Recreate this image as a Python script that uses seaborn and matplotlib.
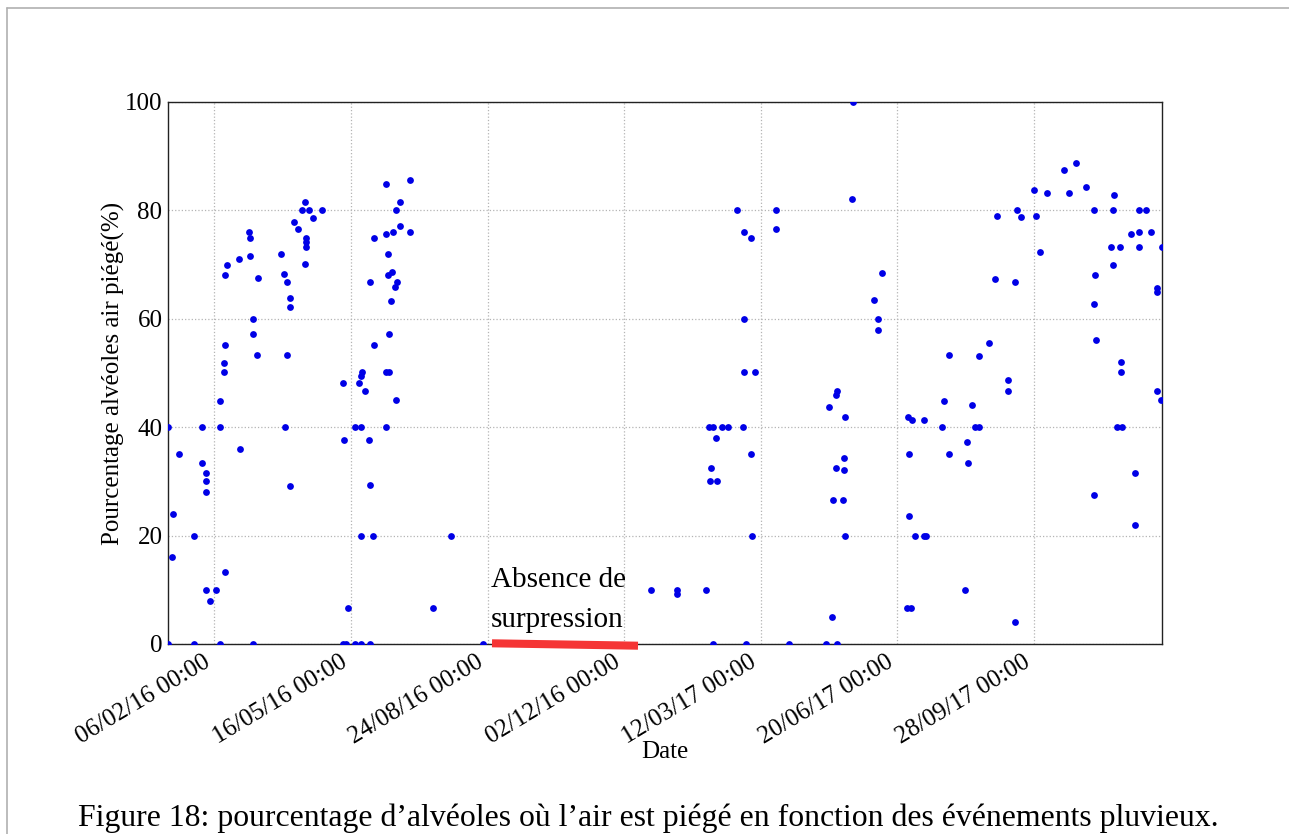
import matplotlib
matplotlib.use("Agg")
import matplotlib.pyplot as plt
from matplotlib.lines import Line2D
import pandas as pd
import seaborn as sns

dates = [
    "2016-01-03", "2016-01-11", "2016-01-07", "2016-01-06", "2016-01-03", "2016-01-22", "2016-01-22",
    "2016-01-28", "2016-01-28", "2016-01-31", "2016-01-31", "2016-01-31", "2016-01-31", "2016-02-03",
    "2016-02-07", "2016-02-10", "2016-02-10", "2016-02-10", "2016-02-13", "2016-02-13", "2016-02-14",
    "2016-02-14", "2016-02-14", "2016-02-15", "2016-02-24", "2016-02-25", "2016-03-02", "2016-03-03",
    "2016-03-03", "2016-03-05", "2016-03-05", "2016-03-05", "2016-03-08", "2016-03-09", "2016-03-26",
    "2016-03-28", "2016-03-30", "2016-04-01", "2016-04-01", "2016-03-30", "2016-03-29", "2016-04-01",
    "2016-04-04", "2016-04-07", "2016-04-10", "2016-04-12", "2016-04-15", "2016-04-18", "2016-04-25",
    "2016-04-13", "2016-04-13", "2016-04-13", "2016-04-12",
    "2016-05-10", "2016-05-11", "2016-05-14", "2016-05-10", "2016-05-12", "2016-05-19", "2016-05-23",
    "2016-05-22", "2016-05-23", "2016-05-24", "2016-05-26", "2016-05-23", "2016-05-19", "2016-05-23",
    "2016-05-29", "2016-05-30", "2016-05-30", "2016-05-30", "2016-06-01", "2016-06-02", "2016-06-02",
    "2016-06-11", "2016-06-11", "2016-06-11", "2016-06-13", "2016-06-13", "2016-06-14", "2016-06-11",
    "2016-06-12", "2016-06-12", "2016-06-15", "2016-06-17", "2016-06-19", "2016-06-16", "2016-06-18",
    "2016-06-21", "2016-06-21", "2016-06-18", "2016-06-28", "2016-06-28", "2016-07-15", "2016-07-28",
    "2016-08-21",
    "2016-12-22", "2017-01-10", "2017-01-10", "2017-01-31", "2017-02-02", "2017-02-05", "2017-02-07",
    "2017-02-04", "2017-02-03", "2017-02-08", "2017-02-05", "2017-02-12", "2017-02-16", "2017-02-23",
    "2017-02-28", "2017-03-05", "2017-02-28", "2017-02-28", "2017-03-08", "2017-02-27", "2017-03-05",
    "2017-03-06", "2017-03-01", "2017-03-23", "2017-03-23", "2017-04-02",
    "2017-05-19", "2017-05-18", "2017-06-09", "2017-06-03", "2017-06-06", "2017-06-06", "2017-05-07",
    "2017-05-06", "2017-05-01", "2017-05-13", "2017-05-12", "2017-05-06", "2017-05-12", "2017-05-04",
    "2017-05-11", "2017-05-13", "2017-05-03", "2017-04-29", "2017-05-07",
    "2017-06-28", "2017-07-01", "2017-07-10", "2017-06-29", "2017-06-29", "2017-07-03", "2017-07-10",
    "2017-07-11", "2017-06-27", "2017-06-30", "2017-07-24", "2017-07-23", "2017-07-28", "2017-07-28",
    "2017-08-09", "2017-08-10", "2017-08-11", "2017-08-14", "2017-08-16", "2017-08-19", "2017-08-19",
    "2017-08-26", "2017-08-31", "2017-09-01", "2017-09-09", "2017-09-09", "2017-09-14", "2017-09-14",
    "2017-09-16", "2017-09-19", "2017-09-28", "2017-09-30", "2017-10-03", "2017-10-08",
    "2017-10-20", "2017-10-24", "2017-10-29", "2017-11-05", "2017-11-11", "2017-11-12", "2017-11-11",
    "2017-11-13", "2017-11-11", "2017-11-24", "2017-11-25", "2017-11-26", "2017-11-25", "2017-11-30",
    "2017-11-28", "2017-12-02", "2017-12-01", "2017-12-01", "2017-12-08", "2017-12-11", "2017-12-11",
    "2017-12-14", "2017-12-19", "2017-12-14", "2017-12-14", "2017-12-23", "2017-12-27", "2017-12-27",
    "2017-12-27", "2017-12-30", "2017-12-31",
]

pct_air = [
    40, 35, 24, 16, 0, 20, 0,
    40, 33.4, 31.5, 30, 28, 10, 8,
    10, 40, 44.8, 0, 50.1, 51.8, 55.1,
    13.3, 68, 70, 71.1, 36, 76, 74.9,
    71.5, 59.9, 57.2, 0, 53.4, 67.6, 71.9,
    68.3, 66.7, 63.9, 62.1, 53.4, 40, 29.2,
    77.9, 76.5, 80, 81.6, 80, 78.6, 80,
    74.9, 74.2, 73.3, 70.1,
    48.2, 37.6, 6.6, 0, 0, 40, 40,
    48.2, 49.4, 50.1, 46.7, 20, 0, 0,
    37.7, 29.3, 66.7, 0, 20, 55.1, 74.9,
    84.8, 40, 50.1, 50.1, 57.2, 63.3, 75.6,
    71.9, 68, 68.6, 65.9, 66.7, 76, 80,
    81.5, 77.1, 45.1, 85.7, 76, 6.6, 20,
    0,
    10, 10, 9.2, 10, 40, 40, 38,
    32.5, 30, 30, 0, 40, 40, 80,
    76, 74.9, 59.9, 50.1, 50.1, 40, 35,
    20, 0, 80, 76.5, 0,
    100, 82.1, 68.4, 63.5, 59.9, 57.9, 46.7,
    46, 43.7, 41.8, 34.3, 32.5, 32.1, 26.6,
    26.6, 20, 4.9, 0, 0,
    41.8, 41.3, 41.4, 35, 23.7, 20, 20,
    20, 6.6, 6.6, 44.8, 40, 53.4, 35,
    10, 37.2, 33.4, 44.1, 40, 40, 53.2,
    55.5, 67.3, 79, 48.8, 46.7, 66.7, 4.1,
    80, 78.7, 83.7, 79, 72.3, 83.3,
    87.5, 83.3, 88.7, 84.3, 80, 68, 62.8,
    56.1, 27.5, 73.3, 80, 82.8, 70, 73.3,
    40, 40, 52.1, 50.1, 75.6, 31.5, 21.9,
    80, 80, 76, 73.3, 76, 65.7, 65,
    46.7, 45.1, 73.3,
]

tick_labels = ["06/02/16 00:00", "16/05/16 00:00", "24/08/16 00:00", "02/12/16 00:00",
               "12/03/17 00:00", "20/06/17 00:00", "28/09/17 00:00"]
y_ticks = [0, 20, 40, 60, 80, 100]

x_label = "Date"
y_label = "Pourcentage alvéoles air piégé(%)"
annotation = ["Absence de", "surpression"]
caption = "Figure 18: pourcentage d\u2019alvéoles où l\u2019air est piégé en fonction des événements pluvieux."

sns.set_theme(style="white")
plt.rcParams["font.family"] = ["Liberation Serif", "DejaVu Serif"]

W, H = 1289, 834
fig = plt.figure(figsize=(W / 100, H / 100), dpi=100)
fig.patch.set_facecolor("white")

def fx(px):
    return px / W

def fy(py):
    return 1 - py / H

ax = fig.add_axes([fx(168), fy(644), (1162 - 168) / W, (644 - 102) / H])

df = pd.DataFrame({"Date": pd.to_datetime(dates), "pct": pct_air})
sns.scatterplot(data=df, x="Date", y="pct", ax=ax, color="#0000e6", s=24,
                linewidth=0, zorder=3)

ax.set_xlim(df["Date"].min(), df["Date"].max())
ax.set_ylim(0, 100)
ax.set_yticks(y_ticks)
ax.set_yticklabels([str(v) for v in y_ticks])
tick_pos = pd.to_datetime(tick_labels, format="%d/%m/%y %H:%M")
ax.set_xticks(tick_pos)
ax.set_xticklabels(tick_labels, rotation=31, ha="right")
ax.grid(True, linestyle=":", color="#b4b4b4", linewidth=0.9)
ax.tick_params(axis="both", length=0, labelsize=18, colors="black")
ax.tick_params(axis="y", pad=4)
ax.tick_params(axis="x", pad=5)
for sp in ax.spines.values():
    sp.set_color("#222222")
    sp.set_linewidth(1.0)

ax.set_xlabel(x_label, fontsize=18, color="black")
ax.xaxis.label.set_va("center")
ax.xaxis.set_label_coords(0.5, (644 - 752) / 542)
ax.set_ylabel(y_label, fontsize=18, color="black")
ax.yaxis.label.set_va("center")
ax.yaxis.set_label_coords((113 - 168) / 994, 0.5)

# annotation overlay
fig.text(fx(491), fy(587), annotation[0], fontsize=21, ha="left", va="baseline", color="black")
fig.text(fx(491), fy(627), annotation[1], fontsize=21, ha="left", va="baseline", color="black")
fig.add_artist(Line2D([fx(492), fx(638)], [fy(643.3), fy(645.7)], color="#f53535",
                      linewidth=5.8, solid_capstyle="butt", zorder=5))

# caption
fig.text(fx(78), fy(826), caption, fontsize=22.9, ha="left", va="baseline", color="black")

# page border
fig.add_artist(Line2D([fx(7), fx(7)], [0, fy(8)], color="#b0b0b0", linewidth=1.2))
fig.add_artist(Line2D([fx(7), 1], [fy(8), fy(8)], color="#b0b0b0", linewidth=1.2))

fig.savefig("out.png", dpi=100, facecolor="white")
